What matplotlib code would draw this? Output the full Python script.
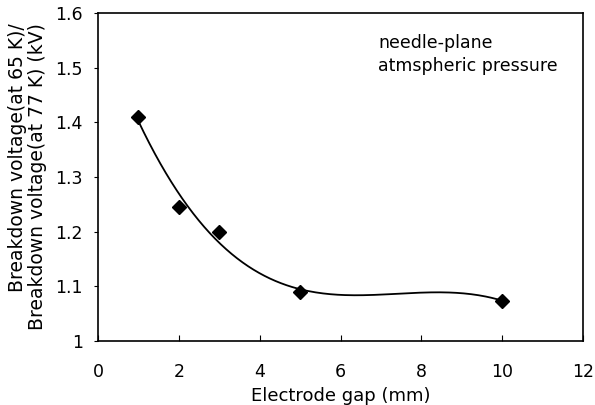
import numpy as np
import matplotlib
matplotlib.use("Agg")
import matplotlib.pyplot as plt

plt.rcParams['font.family'] = ['DejaVu Sans']

# datos
gap_mm = [1, 2, 3, 5, 10]
ratio = [1.41, 1.246, 1.20, 1.09, 1.074]

xticks = [0, 2, 4, 6, 8, 10, 12]
yticks = [1, 1.1, 1.2, 1.3, 1.4, 1.5, 1.6]
yticklabels = ['1', '1.1', '1.2', '1.3', '1.4', '1.5', '1.6']

# ajuste polinomico de orden 3 (tipo linea de tendencia)
coef = np.polyfit(gap_mm, ratio, 3)
xs = np.linspace(min(gap_mm), max(gap_mm), 200)
ys = np.polyval(coef, xs)

fig = plt.figure(figsize=(5.95, 4.05), dpi=100)
ax = fig.add_axes([98/595, 64/405, 485/595, 328/405])

ax.plot(xs, ys, color='black', linewidth=1.3)
ax.plot(gap_mm, ratio, linestyle='none', marker='D', markersize=7,
        color='black')

ax.set_xlim(0, 12)
ax.set_ylim(1, 1.6)
ax.set_xticks(xticks)
ax.set_yticks(yticks)
ax.set_yticklabels(yticklabels)
ax.tick_params(axis='x', direction='in', length=4, labelsize=12.5, pad=16)
ax.tick_params(axis='y', direction='out', length=3, labelsize=12.5, pad=8)
for s in ax.spines.values():
    s.set_linewidth(1.2)

ax.set_xlabel('Electrode gap (mm)', fontsize=13, labelpad=4)
ax.set_ylabel('Breakdown voltage(at 65 K)/\nBreakdown voltage(at 77 K) (kV)',
              fontsize=13.5, labelpad=6, linespacing=1.05,
              multialignment='right')

ax.text(0.578, 0.935, 'needle-plane\natmspheric pressure', transform=ax.transAxes,
        fontsize=12.5, va='top', ha='left', linespacing=1.3)

fig.savefig('out.png', dpi=100)
